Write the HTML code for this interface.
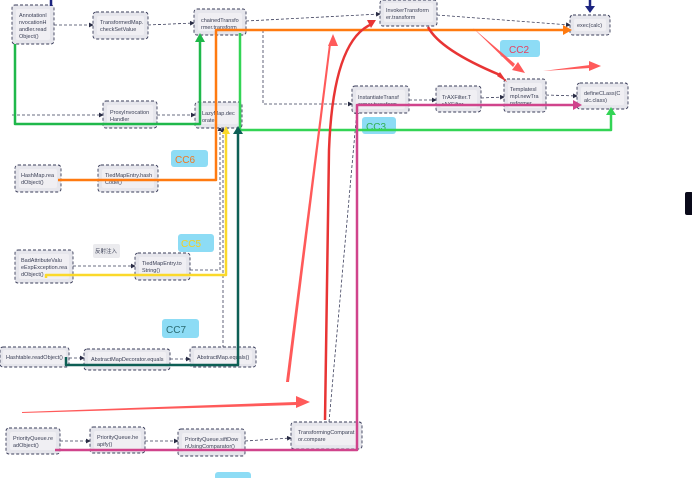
<!DOCTYPE html>
<html><head><meta charset="utf-8"><style>
html,body{margin:0;padding:0;background:#fff;width:692px;height:478px;overflow:hidden}
svg text{font-family:"Liberation Sans","Noto Sans CJK SC",sans-serif;fill:#3a3f55}
</style></head><body>
<svg width="692" height="478" viewBox="0 0 692 478" xmlns="http://www.w3.org/2000/svg">
<defs>
<marker id="ad" markerWidth="6" markerHeight="6" refX="5" refY="3" orient="auto"><path d="M0,0L6,3L0,6z" fill="#2a2d45"/></marker>
</defs>
<!-- dashed connectors -->
<g stroke="#3a3d5a" stroke-width="0.8" stroke-dasharray="3,2" fill="none" marker-end="url(#ad)">
<path d="M54,25H93"/>
<path d="M148,25L194,23"/>
<path d="M246,21L380,14"/>
<path d="M437,15L570,25"/>
<path d="M12,115H103"/>
<path d="M157,115H195"/>
<path d="M263,30V104H352"/>
<path d="M409,100H436"/>
<path d="M481,98L504,97"/>
<path d="M546,95L577,96"/>
<path d="M73,266H135"/>
<path d="M190,270H220V127"/>
<path d="M69,358H84"/>
<path d="M170,359H190"/>
<path d="M223,348V128"/>
<path d="M60,441H90"/>
<path d="M145,441H178"/>
<path d="M245,441L291,438"/>
<path d="M329,422L357,110"/>
</g>
<!-- nodes -->
<g fill="#e6e6ec" stroke="#3a3d5a" stroke-width="0.9" stroke-dasharray="3,2">
<rect x="12" y="5" width="42" height="39" rx="3"/>
<rect x="93" y="12" width="55" height="27" rx="3"/>
<rect x="194" y="9" width="52" height="26" rx="3"/>
<rect x="380" y="0" width="57" height="26" rx="3"/>
<rect x="570" y="15" width="40" height="20" rx="3"/>
<rect x="103" y="101" width="54" height="27" rx="3"/>
<rect x="195" y="102" width="47" height="26" rx="3"/>
<rect x="352" y="86" width="57" height="27" rx="3"/>
<rect x="436" y="86" width="45" height="26" rx="3"/>
<rect x="504" y="79" width="42" height="33" rx="3"/>
<rect x="577" y="83" width="51" height="26" rx="3"/>
<rect x="15" y="165" width="46" height="27" rx="3"/>
<rect x="98" y="165" width="60" height="27" rx="3"/>
<rect x="15" y="250" width="58" height="33" rx="3"/>
<rect x="135" y="253" width="55" height="27" rx="3"/>
<rect x="0" y="347" width="69" height="20" rx="3"/>
<rect x="84" y="349" width="86" height="21" rx="3"/>
<rect x="190" y="347" width="66" height="20" rx="3"/>
<rect x="6" y="428" width="54" height="26" rx="3"/>
<rect x="90" y="427" width="55" height="26" rx="3"/>
<rect x="178" y="429" width="67" height="27" rx="3"/>
<rect x="291" y="422" width="71" height="27" rx="3"/>
</g>
<g fill="#f0eff3">
<rect x="16" y="9" width="34" height="31" rx="2"/><rect x="97" y="16" width="47" height="19" rx="2"/><rect x="198" y="13" width="44" height="18" rx="2"/>
<rect x="384" y="3" width="49" height="19" rx="2"/><rect x="574" y="19" width="32" height="12" rx="2"/><rect x="107" y="105" width="46" height="19" rx="2"/>
<rect x="199" y="106" width="39" height="18" rx="2"/><rect x="356" y="90" width="49" height="19" rx="2"/><rect x="440" y="90" width="37" height="18" rx="2"/>
<rect x="508" y="83" width="34" height="25" rx="2"/><rect x="581" y="87" width="43" height="18" rx="2"/><rect x="19" y="169" width="38" height="19" rx="2"/>
<rect x="102" y="169" width="52" height="19" rx="2"/><rect x="19" y="254" width="50" height="25" rx="2"/><rect x="139" y="257" width="47" height="19" rx="2"/>
<rect x="3" y="350" width="63" height="14" rx="2"/><rect x="88" y="352" width="78" height="15" rx="2"/><rect x="194" y="350" width="58" height="14" rx="2"/>
<rect x="10" y="432" width="46" height="18" rx="2"/><rect x="94" y="431" width="47" height="18" rx="2"/><rect x="182" y="433" width="59" height="19" rx="2"/><rect x="295" y="426" width="63" height="19" rx="2"/>
<rect x="93" y="244" width="27" height="14" rx="2" fill="#ebebee"/>
</g>
<g font-size="5.5">
<text x="19" y="17">AnnotationI</text><text x="19" y="24">nvocationH</text><text x="19" y="31">andler.read</text><text x="19" y="38">Object()</text>
<text x="100" y="24">TransformedMap.</text><text x="100" y="31">checkSetValue</text>
<text x="201" y="22">chainedTransfo</text><text x="201" y="29">rmer.transform</text>
<text x="386" y="12">InvokerTransform</text><text x="386" y="19">er.transform</text>
<text x="577" y="27">exec(calc)</text>
<text x="110" y="114">ProxyInvocation</text><text x="110" y="121">Handler</text>
<text x="202" y="115">LazyMap.dec</text><text x="202" y="122">orate</text>
<text x="358" y="99">InstantiateTransf</text><text x="358" y="106">ormer.transform</text>
<text x="442" y="99">TrAXFilter.T</text><text x="442" y="106">rAXFilter</text>
<text x="510" y="91">TemplatesI</text><text x="510" y="98">mpl.newTra</text><text x="510" y="105">nsformer</text>
<text x="584" y="95">defineCLass(C</text><text x="584" y="102">alc.class)</text>
<text x="21" y="177">HashMap.rea</text><text x="21" y="184">dObject()</text>
<text x="105" y="177">TiedMapEntry.hash</text><text x="105" y="184">Code()</text>
<text x="21" y="262">BadAttributeValu</text><text x="21" y="269">eExpException.rea</text><text x="21" y="276">dObject()</text>
<text x="142" y="265">TiedMapEntry.to</text><text x="142" y="272">String()</text>
<text x="95" y="253" fill="#333">反射注入</text>
<text x="6" y="359">Hashtable.readObject()</text>
<text x="91" y="361">AbstractMapDecorator.equals</text>
<text x="197" y="359">AbstractMap.equals()</text>
<text x="13" y="440">PriorityQueue.re</text><text x="13" y="447">adObject()</text>
<text x="97" y="439">PriorityQueue.he</text><text x="97" y="446">apify()</text>
<text x="185" y="441">PriorityQueue.siftDow</text><text x="185" y="448">nUsingComparator()</text>
<text x="298" y="434">TransformingComparat</text><text x="298" y="441">or.compare</text>
</g>
<!-- labels -->
<g fill="#8ddcf5">
<rect x="500" y="40" width="40" height="17" rx="3"/><rect x="171" y="150" width="37" height="17" rx="3"/><rect x="178" y="234" width="36" height="18" rx="3"/>
<rect x="162" y="319" width="37" height="19" rx="3"/><rect x="362" y="117" width="34" height="17" rx="3"/><rect x="215" y="472" width="36" height="8" rx="3"/>
</g>
<g font-size="10">
<text x="509" y="53" style="fill:#e64060">CC2</text><text x="175" y="163" style="fill:#f07820">CC6</text>
<text x="181" y="247" style="fill:#f5d020">CC5</text><text x="166" y="333" style="fill:#2a6a70">CC7</text>
<text x="366" y="130" style="fill:#30b050">CC3</text>
</g>
<!-- colored paths -->
<g fill="none" stroke-linejoin="round">
<path d="M15,44V124H200V42" stroke="#1fb84a" stroke-width="2.5"/>
<path d="M240,33V130H611V112" stroke="#33d455" stroke-width="2.5"/>
<path d="M58,180H216V30H564" stroke="#ff7a10" stroke-width="2.5"/>
<path d="M46,278V275H226V133" stroke="#fbd92a" stroke-width="2.5"/>
<path d="M66,357V365H238V133" stroke="#0d5f55" stroke-width="2.5"/>
<path d="M55,450H357V105H575" stroke="#d0448c" stroke-width="2.5"/>
<path d="M325,420L329,150Q333,40 372,24" stroke="#e83434" stroke-width="2.5"/>
<path d="M428,27Q440,50 500,75" stroke="#e83434" stroke-width="2.5"/>
</g>
<g>
<path d="M200,33l-5,9h10z" fill="#1fb84a"/>
<path d="M611,107l-5,8h10z" fill="#33d455"/>
<path d="M572,30l-9,-5v10z" fill="#ff7a10"/>
<path d="M226,126l-4,8h8z" fill="#fbd92a"/>
<path d="M238,126l-5,8h10z" fill="#0d5f55"/>
<path d="M582,105l-9,-5v10z" fill="#d0448c"/>
<path d="M376,20l-9,0l4,8z" fill="#e83434"/>
<path d="M507,82l-10,-6l3,-4z" fill="#e83434"/>
<path d="M286,382L329,44L331,44L289,382z" fill="#ff5a5a"/><path d="M333,34l-5,12h10z" fill="#ff5a5a"/>
<path d="M22,412L296,402L296,405L22,413z" fill="#ff5a5a"/><path d="M310,402l-14,-6v12z" fill="#ff5a5a"/>
<path d="M473,28L515,64L513,67z" fill="#ff5a5a"/><path d="M525,73l-13,-3l6,-8z" fill="#ff5a5a"/>
<path d="M543,71L590,65L590,68z" fill="#ff5a5a"/><path d="M601,66l-12,-5v10z" fill="#ff5a5a"/>
<path d="M51,0V6" stroke="#1c2480" stroke-width="2.5"/>
<path d="M590,0V7" stroke="#1c2480" stroke-width="2.5"/><path d="M590,13l-5,-7h10z" fill="#1c2480"/>
<rect x="685" y="192" width="8" height="23" rx="2" fill="#0a0a1a"/>
</g>
</svg>
</body></html>
